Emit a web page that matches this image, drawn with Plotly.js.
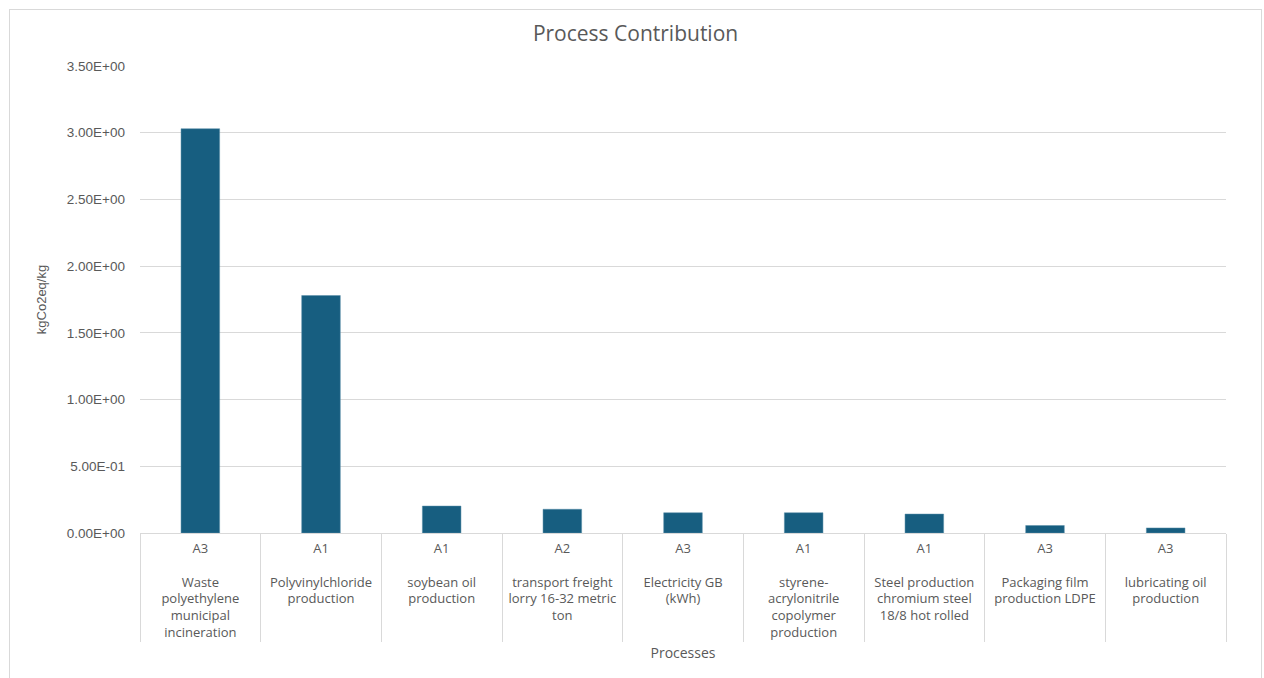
<!DOCTYPE html>
<html>
<head>
<meta charset="utf-8">
<script src="https://cdn.plot.ly/plotly-3.0.1.min.js"></script>
<style>
  html, body { margin: 0; padding: 0; background: #ffffff; }
  #wrap { position: relative; width: 1264px; height: 678px; overflow: hidden; }
  #chart { position: absolute; left: 0; top: 0; width: 1264px; height: 678px; }
  #frame { position: absolute; left: 9px; top: 9px; width: 1253px; height: 700px; border: 1px solid #d9d9d9; box-sizing: border-box; pointer-events: none; }
</style>
</head>
<body>
<div id="wrap">
  <div id="chart"></div>
  <div id="frame"></div>
</div>
<script>
const stageCodes = ["A3", "A1", "A1", "A2", "A3", "A1", "A1", "A3", "A3"];
const processNames = [
  "Waste<br>polyethylene<br>municipal<br>incineration",
  "Polyvinylchloride<br>production",
  "soybean oil<br>production",
  "transport freight<br>lorry 16-32 metric<br>ton",
  "Electricity GB<br>(kWh)",
  "styrene-<br>acrylonitrile<br>copolymer<br>production",
  "Steel production<br>chromium steel<br>18/8 hot rolled",
  "Packaging film<br>production LDPE",
  "lubricating oil<br>production"
];
const contributions = [3.03, 1.78, 0.202, 0.178, 0.152, 0.152, 0.142, 0.056, 0.038];
const yTickVals = [0, 0.5, 1.0, 1.5, 2.0, 2.5, 3.0, 3.5];
const yTickText = ["0.00E+00", "5.00E-01", "1.00E+00", "1.50E+00", "2.00E+00", "2.50E+00", "3.00E+00", "3.50E+00"];

const textColor = "#595959";
const gridColor = "#d9d9d9";

// outer level labels start one (blank) line lower, as in the reference layout
const outerLabels = processNames.map(function (n) { return " <br>" + n; });

const trace = {
  type: "bar",
  x: [outerLabels, stageCodes],
  y: contributions,
  marker: { color: "#175e80", line: { color: "#5b8fa8", width: 0.5 } },
  hoverinfo: "y"
};

const layout = {
  width: 1264,
  height: 678,
  margin: { l: 140, r: 38, t: 66, b: 145 },
  paper_bgcolor: "#ffffff",
  plot_bgcolor: "#ffffff",
  showlegend: false,
  bargap: 0.68,
  font: { family: "Open Sans, sans-serif", color: textColor, size: 13 },
  title: {
    text: "Process Contribution",
    x: 0.5028, xref: "container", xanchor: "center",
    y: 0.95, yref: "container", yanchor: "middle",
    font: { family: "Open Sans, sans-serif", size: 21, color: textColor }
  },
  xaxis: {
    type: "multicategory",
    showgrid: false,
    showline: true,
    linecolor: gridColor,
    linewidth: 1,
    ticks: "",
    ticklabelstandoff: 3,
    showdividers: true,
    dividercolor: gridColor,
    dividerwidth: 1,
    tickfont: { family: "Open Sans, sans-serif", size: 13, color: textColor },
    title: {
      text: "Processes",
      standoff: 7,
      font: { family: "Open Sans, sans-serif", size: 14, color: textColor }
    },
    fixedrange: true
  },
  yaxis: {
    range: [0, 3.5],
    tickvals: yTickVals,
    ticktext: yTickText,
    showgrid: true,
    gridcolor: gridColor,
    gridwidth: 1,
    zeroline: false,
    showline: false,
    ticks: "",
    ticklabelstandoff: 14,
    tickfont: { family: "Liberation Sans, Arial, sans-serif", size: 13.5, color: textColor },
    title: {
      text: "kgCo2eq/kg",
      standoff: 17,
      font: { family: "Liberation Sans, Arial, sans-serif", size: 13, color: textColor }
    },
    fixedrange: true
  }
};

Plotly.newPlot("chart", [trace], layout, { displayModeBar: false, staticPlot: true });
</script>
</body>
</html>
